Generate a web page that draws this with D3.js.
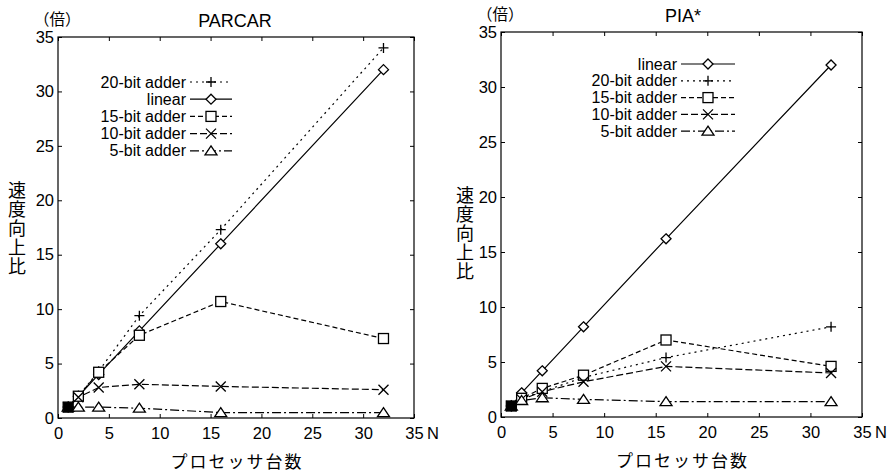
<!DOCTYPE html>
<html><head><meta charset="utf-8">
<script src="https://cdn.jsdelivr.net/npm/d3@7"></script>
<style>body{margin:0;background:#fff}svg{display:block}text{font-family:"Liberation Sans",Arial,sans-serif;fill:#000}</style>
</head><body><svg id="c" width="896" height="471"></svg>
<script>
const procs = [1, 2, 4, 8, 16, 32];
const xTicks = [0, 5, 10, 15, 20, 25, 30, 35];
const yTicks = [0, 5, 10, 15, 20, 25, 30, 35];

// PARCAR
const parcarLinear = [1, 2, 4, 8, 16, 32];
const parcar20 = [1, 2, 4.3, 9.4, 17.3, 34];
const parcar15 = [1, 2, 4.2, 7.6, 10.7, 7.3];
const parcar10 = [1, 1.9, 2.8, 3.1, 2.9, 2.6];
const parcar5 = [1, 1.0, 1.0, 0.9, 0.5, 0.5];

// PIA*
const piaLinear = [1, 2.2, 4.2, 8.2, 16.2, 32];
const pia20 = [1, 1.7, 2.3, 3.6, 5.4, 8.2];
const pia15 = [1, 1.7, 2.6, 3.8, 7.0, 4.6];
const pia10 = [1, 1.6, 2.3, 3.2, 4.6, 4.0];
const pia5 = [1, 1.5, 1.75, 1.6, 1.4, 1.4];

const styles = {
  linear: {dash: null, marker: "diamond"},
  b20: {dash: "2,4", marker: "plus"},
  b15: {dash: "5,3", marker: "square"},
  b10: {dash: "7,3", marker: "cross"},
  b5: {dash: "9,3,2,3", marker: "triangle"}
};

const svg = d3.select("#c");
const CJK = "'Noto Sans CJK JP', sans-serif";

function marker(g, type, x, y) {
  const s = 5;
  if (type === "diamond") g.append("path").attr("d", `M${x},${y-s}L${x+s},${y}L${x},${y+s}L${x-s},${y}Z`).attr("fill", "#fff").attr("stroke", "#000").attr("stroke-width", 1.3);
  else if (type === "square") g.append("rect").attr("x", x-s).attr("y", y-s).attr("width", 2*s).attr("height", 2*s).attr("fill", "#fff").attr("stroke", "#000").attr("stroke-width", 1.3);
  else if (type === "plus") g.append("path").attr("d", `M${x-s},${y}H${x+s}M${x},${y-s}V${y+s}`).attr("stroke", "#000").attr("stroke-width", 1.3);
  else if (type === "cross") g.append("path").attr("d", `M${x-s},${y-s}L${x+s},${y+s}M${x+s},${y-s}L${x-s},${y+s}`).attr("stroke", "#000").attr("stroke-width", 1.3);
  else if (type === "triangle") g.append("path").attr("d", `M${x},${y-s}L${x+s+1},${y+s-1}L${x-s-1},${y+s-1}Z`).attr("fill", "#fff").attr("stroke", "#000").attr("stroke-width", 1.3);
}

function panel(opt) {
  const {left, right, top, bottom, title, titleX, series, legend} = opt;
  const x = d3.scaleLinear().domain([0, 35]).range([left, right]);
  const y = d3.scaleLinear().domain([0, 35]).range([bottom, top]);
  const g = svg.append("g");
  g.append("rect").attr("x", left).attr("y", top).attr("width", right-left).attr("height", bottom-top).attr("fill", "none").attr("stroke", "#000").attr("stroke-width", 1.2);
  const ax = g.append("g").attr("transform", `translate(0,${bottom})`).call(d3.axisBottom(x).tickValues(xTicks).tickSize(-4).tickPadding(9));
  const ay = g.append("g").attr("transform", `translate(${left},0)`).call(d3.axisLeft(y).tickValues(yTicks).tickSize(-4).tickPadding(4));
  g.append("g").attr("transform", `translate(0,${top})`).call(d3.axisTop(x).tickValues(xTicks).tickSize(-4).tickFormat(""));
  g.append("g").attr("transform", `translate(${right},0)`).call(d3.axisRight(y).tickValues(yTicks).tickSize(-4).tickFormat(""));
  g.selectAll(".domain").remove();
  g.selectAll(".tick line").attr("stroke", "#000").attr("stroke-width", 1);
  ax.selectAll("text").attr("font-size", 16.5).attr("dy", "0.71em").style("font-family", "Liberation Sans, Arial, sans-serif");
  ay.selectAll("text").attr("font-size", 16.5).style("font-family", "Liberation Sans, Arial, sans-serif");
  g.append("text").attr("x", right + 13).attr("y", bottom + 9).attr("dy", "0.71em").attr("font-size", 16.5).text("N");
  g.append("text").attr("x", titleX).attr("y", top - 10.5).attr("text-anchor", "middle").attr("font-size", 18).text(title);
  g.append("text").attr("x", left - 24).attr("y", top - 12).attr("font-size", 15.5).style("font-family", CJK).text("（倍）");
  g.append("text").attr("x", opt.ylabX).attr("y", opt.ylabTop).attr("font-size", 18).style("font-family", CJK)
    .style("writing-mode", "vertical-rl").style("text-orientation", "upright").style("letter-spacing", "1px").text("速度向上比");
  g.append("text").attr("x", (left+right)/2 + 1).attr("y", bottom + 42).attr("dominant-baseline", "central").attr("text-anchor", "middle").attr("font-size", 17).style("letter-spacing", "2px").style("font-family", CJK).text("プロセッサ台数");
  const line = d3.line().x(d => x(d[0])).y(d => y(d[1]));
  series.forEach(s => {
    const st = styles[s.key];
    const pts = procs.map((p, i) => [p, s.values[i]]);
    g.append("path").attr("d", line(pts)).attr("fill", "none").attr("stroke", "#000").attr("stroke-width", 1.2).attr("stroke-dasharray", st.dash);
  });
  series.forEach(s => {
    const st = styles[s.key];
    procs.forEach((p, i) => marker(g, st.marker, x(p), y(s.values[i])));
  });
  g.append("rect").attr("x", x(1)-5).attr("y", y(1)-5).attr("width", 10).attr("height", 10).attr("fill", "#000");
  legend.rows.forEach((r, i) => {
    const st = styles[r.key];
    const yy = legend.y + i*legend.dy;
    g.append("text").attr("x", legend.x).attr("y", yy).attr("dy", "0.35em").attr("text-anchor", "end").attr("font-size", 16).text(r.label);
    g.append("line").attr("x1", legend.x + 4).attr("x2", legend.x + legend.w).attr("y1", yy).attr("y2", yy).attr("stroke", "#000").attr("stroke-width", 1.2).attr("stroke-dasharray", st.dash);
    marker(g, st.marker, legend.x + 4 + (legend.w-4)/2, yy);
  });
}

panel({left: 58, right: 414, top: 37, bottom: 418, title: "PARCAR", titleX: 235, ylabTop: 181, ylabX: 17,
  series: [
    {key: "b20", values: parcar20}, {key: "linear", values: parcarLinear}, {key: "b15", values: parcar15},
    {key: "b10", values: parcar10}, {key: "b5", values: parcar5}],
  legend: {x: 186, y: 82, dy: 17.2, w: 46, rows: [
    {key: "b20", label: "20-bit adder"}, {key: "linear", label: "linear"}, {key: "b15", label: "15-bit adder"},
    {key: "b10", label: "10-bit adder"}, {key: "b5", label: "5-bit adder"}]}
});
panel({left: 501, right: 862, top: 32, bottom: 417, title: "PIA*", titleX: 683, ylabTop: 186, ylabX: 465,
  series: [
    {key: "linear", values: piaLinear}, {key: "b20", values: pia20}, {key: "b15", values: pia15},
    {key: "b10", values: pia10}, {key: "b5", values: pia5}],
  legend: {x: 677, y: 64, dy: 16.8, w: 58, rows: [
    {key: "linear", label: "linear"}, {key: "b20", label: "20-bit adder"}, {key: "b15", label: "15-bit adder"},
    {key: "b10", label: "10-bit adder"}, {key: "b5", label: "5-bit adder"}]}
});
</script></body></html>
